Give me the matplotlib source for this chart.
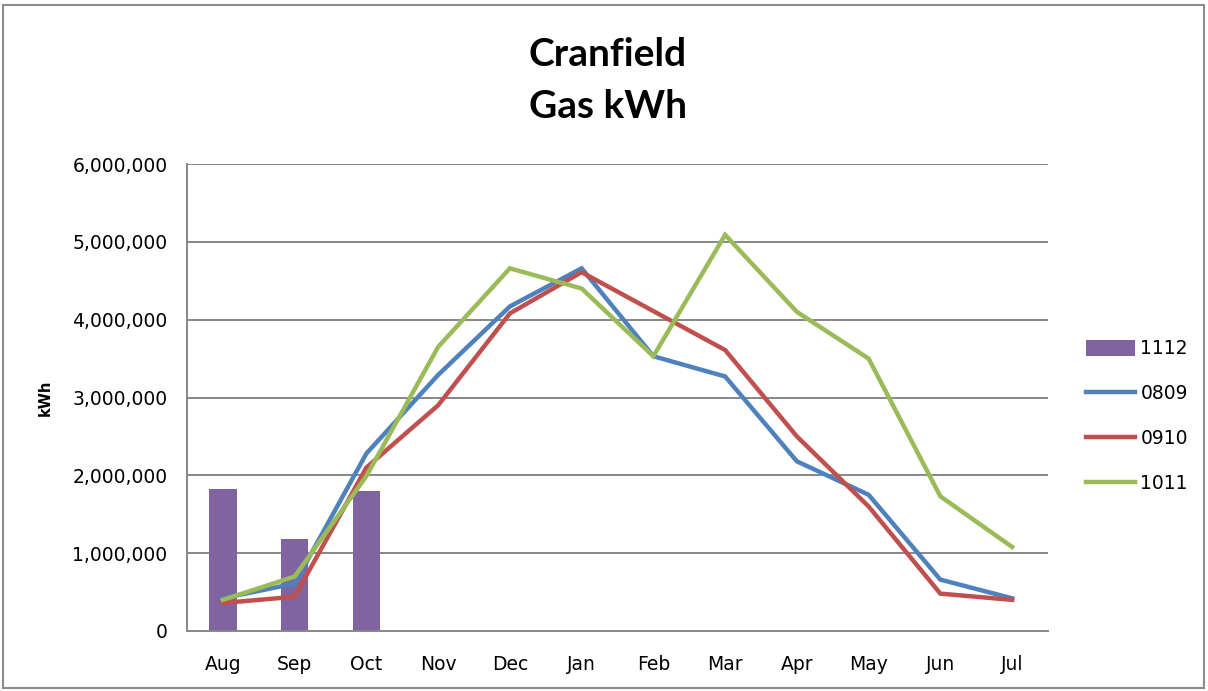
import matplotlib
matplotlib.use("Agg")
import matplotlib.pyplot as plt
from matplotlib.patches import Rectangle
from matplotlib.ticker import FuncFormatter
import numpy as np

months = ["Aug", "Sep", "Oct", "Nov", "Dec", "Jan", "Feb", "Mar", "Apr", "May", "Jun", "Jul"]
s1112 = [1825000, 1180000, 1800000]
s0809 = [420000, 610000, 2280000, 3290000, 4170000, 4660000, 3530000, 3270000, 2180000, 1750000, 660000, 420000]
s0910 = [360000, 440000, 2100000, 2900000, 4080000, 4610000, 4110000, 3610000, 2500000, 1600000, 480000, 400000]
s1011 = [400000, 700000, 1990000, 3650000, 4660000, 4400000, 3530000, 5090000, 4100000, 3500000, 1730000, 1080000]

purple = "#8064A2"
blue = "#4F81BD"
red = "#C0504D"
green = "#9BBB59"
grid = "#878787"

fig = plt.figure(figsize=(12.08, 6.91), dpi=100)
ax = fig.add_axes([187/1208, 1-631/691, (1048-187)/1208, (631-164)/691])

x = np.arange(len(months))
b = ax.bar(x[:len(s1112)], s1112, width=0.38, color=purple, label="1112", zorder=2)
l1, = ax.plot(x, s0809, color=blue, lw=3.2, label="0809", zorder=3, solid_joinstyle="miter")
l2, = ax.plot(x, s0910, color=red, lw=3.2, label="0910", zorder=3, solid_joinstyle="miter")
l3, = ax.plot(x, s1011, color=green, lw=3.2, label="1011", zorder=3, solid_joinstyle="miter")

ax.set_xlim(-0.5, 11.5)
ax.set_ylim(0, 6000000)
ax.set_yticks(np.arange(0, 6000001, 1000000))
ax.yaxis.set_major_formatter(FuncFormatter(lambda v, p: f"{int(v):,}"))
ax.set_xticks(x)
ax.set_xticklabels(months)
ax.grid(axis="y", color=grid, lw=1.4, zorder=0)
ax.set_axisbelow(True)
for s in ["top", "right"]:
    ax.spines[s].set_visible(False)
for s in ["left", "bottom"]:
    ax.spines[s].set_color(grid)
    ax.spines[s].set_linewidth(1.4)
ax.tick_params(axis="x", length=0, pad=17, labelsize=13.5, colors="black")
ax.tick_params(axis="y", length=0, pad=14, labelsize=13.5, colors="black")
ax.set_ylabel("kWh", fontsize=10.5, fontweight="bold", labelpad=14)

fig.text(608/1208, 1-55/691, "Cranfield", ha="center", va="center", fontsize=28, fontweight="bold", family="Lato")
fig.text(608/1208, 1-107/691, "Gas kWh", ha="center", va="center", fontsize=28, fontweight="bold", family="Lato")

leg = fig.legend(handles=[b, l1, l2, l3], labels=["1112", "0809", "0910", "1011"],
                 loc="center left", bbox_to_anchor=(1086/1208, 1-416/691), frameon=False, fontsize=13.5,
                 handlelength=2.6, handleheight=0.9, handletextpad=0.3, labelspacing=1.38,
                 borderaxespad=0, borderpad=0)

fig.patches.append(Rectangle((3/1208, 3/691), 1201/1208, 683/691, transform=fig.transFigure,
                             fill=False, edgecolor="#8c8c8c", lw=1.5))

fig.savefig("out.png", dpi=100, facecolor="white")
